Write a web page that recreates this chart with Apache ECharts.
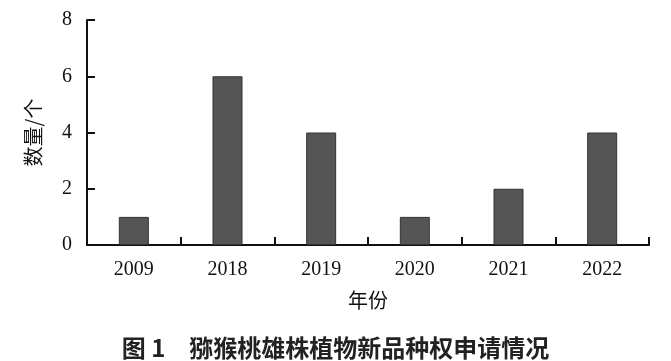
<!DOCTYPE html>
<html>
<head>
<meta charset="utf-8">
<script src="https://cdn.jsdelivr.net/npm/echarts@6/dist/echarts.min.js"></script>
<style>html,body{margin:0;padding:0;background:#fff;}#c{width:671px;height:361px;}</style>
</head>
<body>
<div id="c"></div>
<script>
var categories = ['2009', '2018', '2019', '2020', '2021', '2022'];
var counts = [1, 6, 4, 1, 2, 4];
var yTicks = [0, 2, 4, 6, 8];

var chart = echarts.init(document.getElementById('c'), null, {renderer: 'canvas'});
var serif = '"Liberation Serif", "Times New Roman", serif';
var cjk = '"Noto Sans CJK SC", sans-serif';
chart.setOption({
  animation: false,
  backgroundColor: '#fff',
  title: {
    text: '图 1　猕猴桃雄株植物新品种权申请情况',
    left: 'center',
    top: 331,
    textStyle: {fontFamily: cjk, fontSize: 24, fontWeight: 'bold', color: '#222'}
  },
  grid: {left: 87, right: 22, top: 20, bottom: 116, containLabel: false},
  xAxis: {
    type: 'category',
    data: categories,
    name: '年份',
    nameLocation: 'middle',
    nameGap: 45,
    nameTextStyle: {fontFamily: cjk, fontSize: 20, color: '#111'},
    axisLine: {lineStyle: {color: '#111', width: 2}},
    axisTick: {show: true, inside: true, length: 8, alignWithLabel: false, lineStyle: {color: '#111', width: 2}},
    axisLabel: {fontFamily: serif, fontSize: 20, color: '#111', margin: 15}
  },
  yAxis: {
    type: 'value',
    min: yTicks[0],
    max: yTicks[yTicks.length - 1],
    interval: 2,
    name: '数量/个',
    nameLocation: 'middle',
    nameGap: 44,
    nameRotate: 90,
    nameTextStyle: {fontFamily: cjk, fontSize: 20, color: '#111'},
    axisLine: {show: true, lineStyle: {color: '#111', width: 2}},
    axisTick: {show: true, inside: true, length: 8, lineStyle: {color: '#111', width: 2}},
    axisLabel: {fontFamily: serif, fontSize: 20, color: '#111', margin: 15},
    splitLine: {show: false}
  },
  series: [{
    type: 'bar',
    data: counts,
    barWidth: 30,
    itemStyle: {color: '#555555', borderColor: '#333333', borderWidth: 1}
  }]
});
</script>
</body>
</html>
